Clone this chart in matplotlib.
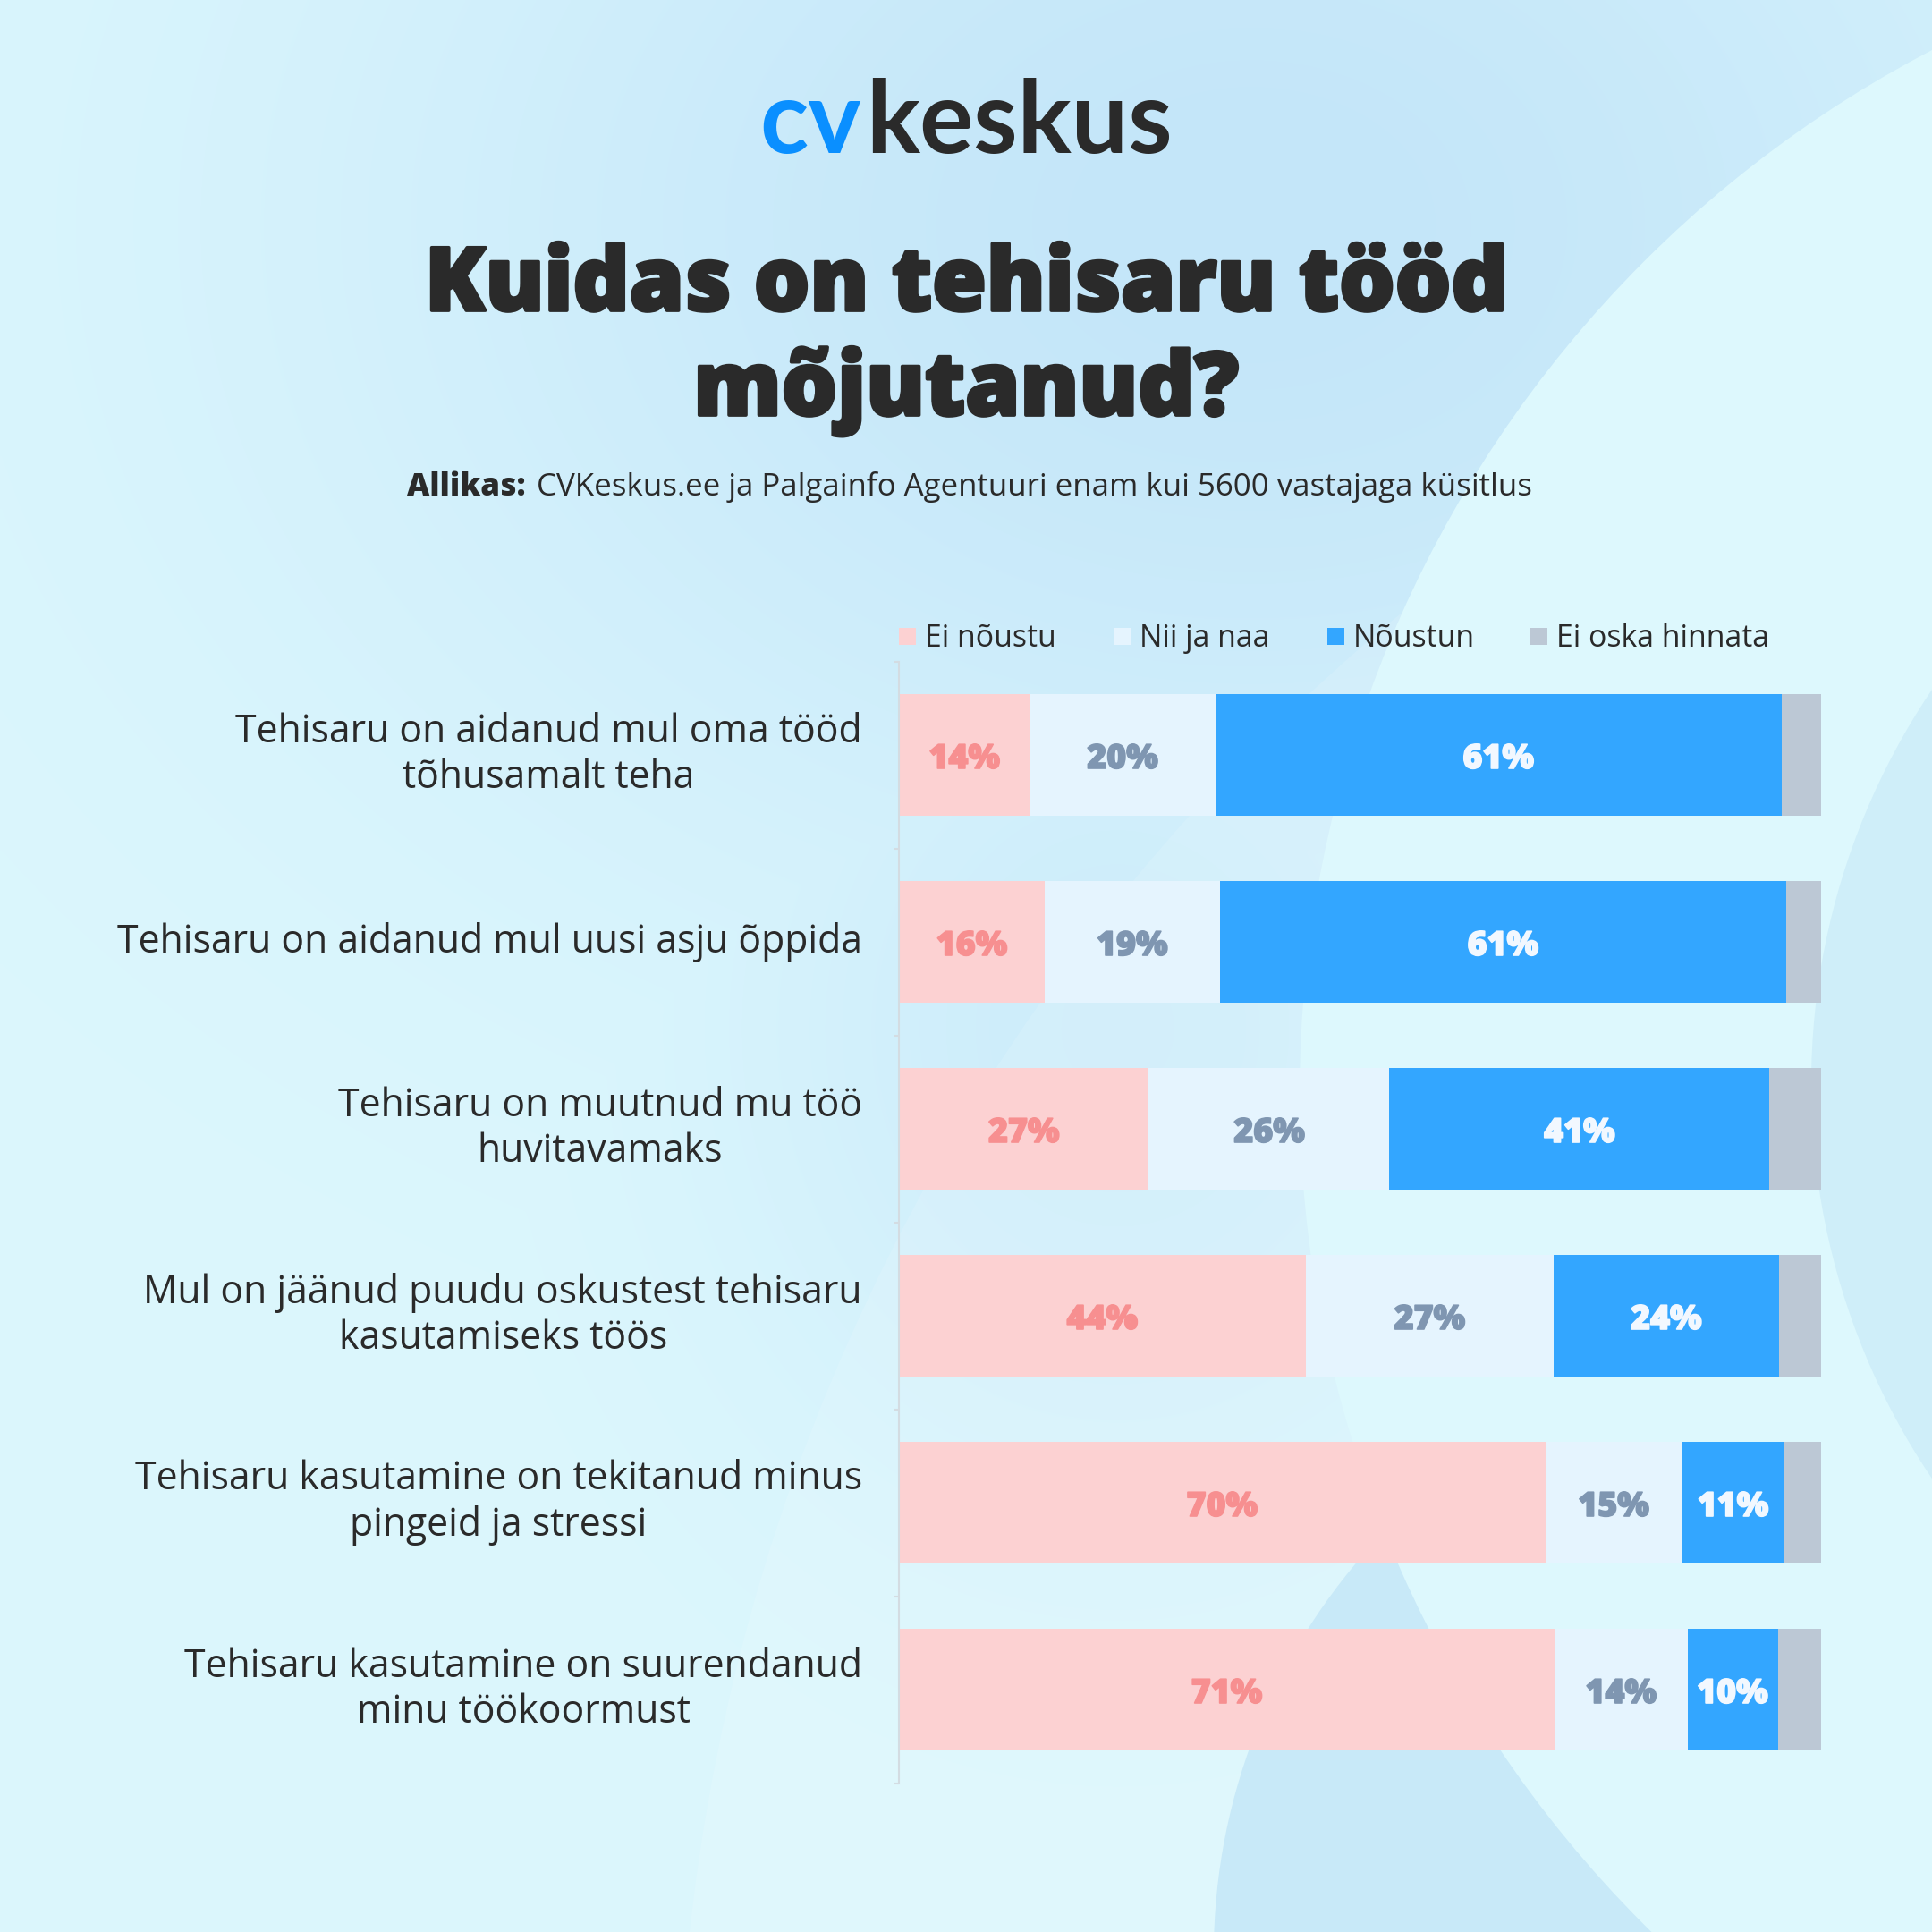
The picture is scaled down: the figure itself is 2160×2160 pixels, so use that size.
import matplotlib.pyplot as plt
import matplotlib.patheffects as pe
import numpy as np
from matplotlib import font_manager as fm
from matplotlib.patches import Circle, Rectangle

W = H = 2160
DPI = 300

# ── data ─────────────────────────────────────────────────────────────────────

QUESTIONS = [
    "Tehisaru on aidanud mul oma tööd\ntõhusamalt teha",
    "Tehisaru on aidanud mul uusi asju õppida",
    "Tehisaru on muutnud mu töö\nhuvitavamaks",
    "Mul on jäänud puudu oskustest tehisaru\nkasutamiseks töös",
    "Tehisaru kasutamine on tekitanud minus\npingeid ja stressi",
    "Tehisaru kasutamine on suurendanud\nminu töökoormust",
]

SERIES = ["Ei nõustu", "Nii ja naa", "Nõustun", "Ei oska hinnata"]

EI_NOUSTU = [14.2, 15.8, 27.1, 44.1, 70.1, 71.1]
NII_JA_NAA = [20.1, 19.0, 26.1, 26.9, 14.8, 14.4]
NOUSTUN = [61.4, 61.4, 41.2, 24.4, 11.1, 9.8]
EI_OSKA = [4.3, 3.8, 5.6, 4.6, 4.0, 4.7]

BAR_COLORS = ["#FCD1D2", "#E5F4FE", "#33A6FF", "#BCC8D5"]
VALUE_COLORS = ["#F78F90", "#7F96B1", "#F2F8FF", None]

DARK = "#2A2A2A"


# ── fonts ────────────────────────────────────────────────────────────────────

def _weight(f):
    try:
        return int(f.weight)
    except (TypeError, ValueError):
        return {"bold": 700, "heavy": 800, "black": 900}.get(str(f.weight), 400)


def _has(family, weight=400):
    return any(f.name == family and _weight(f) >= weight for f in fm.fontManager.ttflist)


if _has("Open Sans", 800):
    HEAVY, HEAVY_W = "Open Sans", 800
else:
    HEAVY, HEAVY_W = "Lato", "bold"
BODY = "Open Sans" if _has("Open Sans") else "Lato"


def _fit(txt, target_w, renderer):
    """Scale a text's font size so that its width matches target_w pixels."""
    w = txt.get_window_extent(renderer).width
    txt.set_fontsize(txt.get_fontsize() * target_w / w)


# ── figure ───────────────────────────────────────────────────────────────────

fig = plt.figure(figsize=(W / DPI, H / DPI), dpi=DPI)
bg = fig.add_axes([0, 0, 1, 1])
bg.set_xlim(0, W)
bg.set_ylim(H, 0)
bg.axis("off")

# soft background: cyan base with a blue haze at the top
yy, xx = np.mgrid[0:H:540j, 0:W:540j]
w1 = np.exp(-((xx - 1400) / 1000) ** 2 - ((yy - 250) / 750) ** 2)
w2 = 0.6 * np.exp(-((xx - 1250) / 450) ** 2 - ((yy - 1150) / 520) ** 2)
wt = np.clip(np.maximum(w1, w2), 0, 1)[..., None]
cyan = np.array([220, 247, 253]) / 255
blue = np.array([196, 230, 249]) / 255
img = cyan * (1 - wt) + blue * wt
bg.imshow(img, extent=[0, W, H, 0], interpolation="bilinear", zorder=0, aspect="auto")

bg.add_patch(Circle((2980, 2400), 2222, color="white", alpha=0.12, lw=0, zorder=1))
bg.add_patch(Circle((2035, 2184), 678, color="#C8E9F8", lw=0, zorder=2))
bg.add_patch(Circle((2768, 1222), 1315, color="#DDF8FD", lw=0, zorder=3))
bg.add_patch(Circle((2813, 1212), 788, color="#CFEEF9", lw=0, zorder=4))

renderer = fig.canvas.get_renderer()

# logo
cv = bg.text(0, 171, "cv", fontsize=27, fontweight="bold", family="Lato",
             color="#0A8FFF", va="baseline", ha="left", zorder=10)
ks = bg.text(0, 171, "keskus", fontsize=27, fontweight="bold", family="Lato",
             color=DARK, va="baseline", ha="left", zorder=10)
w_cv = cv.get_window_extent(renderer).width
w_ks = ks.get_window_extent(renderer).width
x0 = W / 2 - (w_cv + 6 + w_ks) / 2
cv.set_x(x0)
ks.set_x(x0 + w_cv + 6)

# title
stroke = [pe.withStroke(linewidth=0.9, foreground=DARK)]
t1 = bg.text(W / 2, 347, "Kuidas on tehisaru tööd", fontsize=25, fontweight=HEAVY_W,
             family=HEAVY, color=DARK, ha="center", va="baseline", zorder=10,
             path_effects=stroke)
_fit(t1, 1210, renderer)
bg.text(W / 2, 464, "mõjutanud?", fontsize=t1.get_fontsize(), fontweight=HEAVY_W,
        family=HEAVY, color=DARK, ha="center", va="baseline", zorder=10,
        path_effects=stroke)

# source line, sized to span the reference width
s1 = bg.text(0, 554, "Allikas:", fontsize=7.4, fontweight=HEAVY_W, family=HEAVY,
             color=DARK, va="baseline", ha="left", zorder=10)
s2 = bg.text(0, 554, "CVKeskus.ee ja Palgainfo Agentuuri enam kui 5600 vastajaga küsitlus",
             fontsize=7.4, family=BODY, color=DARK, va="baseline", ha="left", zorder=10)
total = s1.get_window_extent(renderer).width + s2.get_window_extent(renderer).width
scale = (1254 - 12) / total
s1.set_fontsize(7.4 * scale)
s2.set_fontsize(7.4 * scale)
w_s1 = s1.get_window_extent(renderer).width
w_s2 = s2.get_window_extent(renderer).width
x0 = 1084 - (w_s1 + 12 + w_s2) / 2
s1.set_x(x0)
s2.set_x(x0 + w_s1 + 12)

# legend
LEG_SQ_X = [1005, 1245, 1484, 1711]
for name, color, sx in zip(SERIES, BAR_COLORS, LEG_SQ_X):
    bg.add_patch(Rectangle((sx, 702), 19, 19, color=color, lw=0, zorder=10))
    bg.text(sx + 29, 723, name, fontsize=8.15, family=BODY,
            color=DARK, va="baseline", ha="left", zorder=10)

# ── bars ─────────────────────────────────────────────────────────────────────

ax = fig.add_axes([1005 / W, 1 - 1993.5 / H, 1031 / W, 1254 / H])
ax.patch.set_alpha(0)

y = np.arange(len(QUESTIONS))
left = np.zeros(len(QUESTIONS))
for vals, color, tcolor in zip([EI_NOUSTU, NII_JA_NAA, NOUSTUN, EI_OSKA],
                               BAR_COLORS, VALUE_COLORS):
    vals = np.array(vals)
    ax.barh(y, vals, left=left, height=0.646, color=color, edgecolor="none")
    if tcolor:
        for yi, v, l in zip(y, vals, left):
            ax.text(l + v / 2, yi, f"{round(v)}%", fontsize=9.0, fontweight=HEAVY_W,
                    family=HEAVY, color=tcolor, ha="center", va="center_baseline",
                    path_effects=[pe.withStroke(linewidth=0.4, foreground=tcolor)])
    left += vals

label_x = -(1005 - 964) / 1031 * 100
for yi, q in zip(y, QUESTIONS):
    ax.text(label_x, yi, q, fontsize=10.25, family=BODY,
            color=DARK, ha="right", va="center", multialignment="center",
            linespacing=1.2, clip_on=False)

ax.set_xlim(0, 100)
ax.set_ylim(len(QUESTIONS) - 0.5, -0.5)
ax.set_xticks([])
ax.set_yticks(np.arange(-0.5, len(QUESTIONS), 1))
ax.set_yticklabels([])
ax.tick_params(axis="y", length=1.5, width=0.5, color="#D3DCE2", direction="out")
for side in ["top", "right", "bottom"]:
    ax.spines[side].set_visible(False)
ax.spines["left"].set_color("#D3DCE2")
ax.spines["left"].set_linewidth(0.5)

fig.savefig("out.png", dpi=DPI)
